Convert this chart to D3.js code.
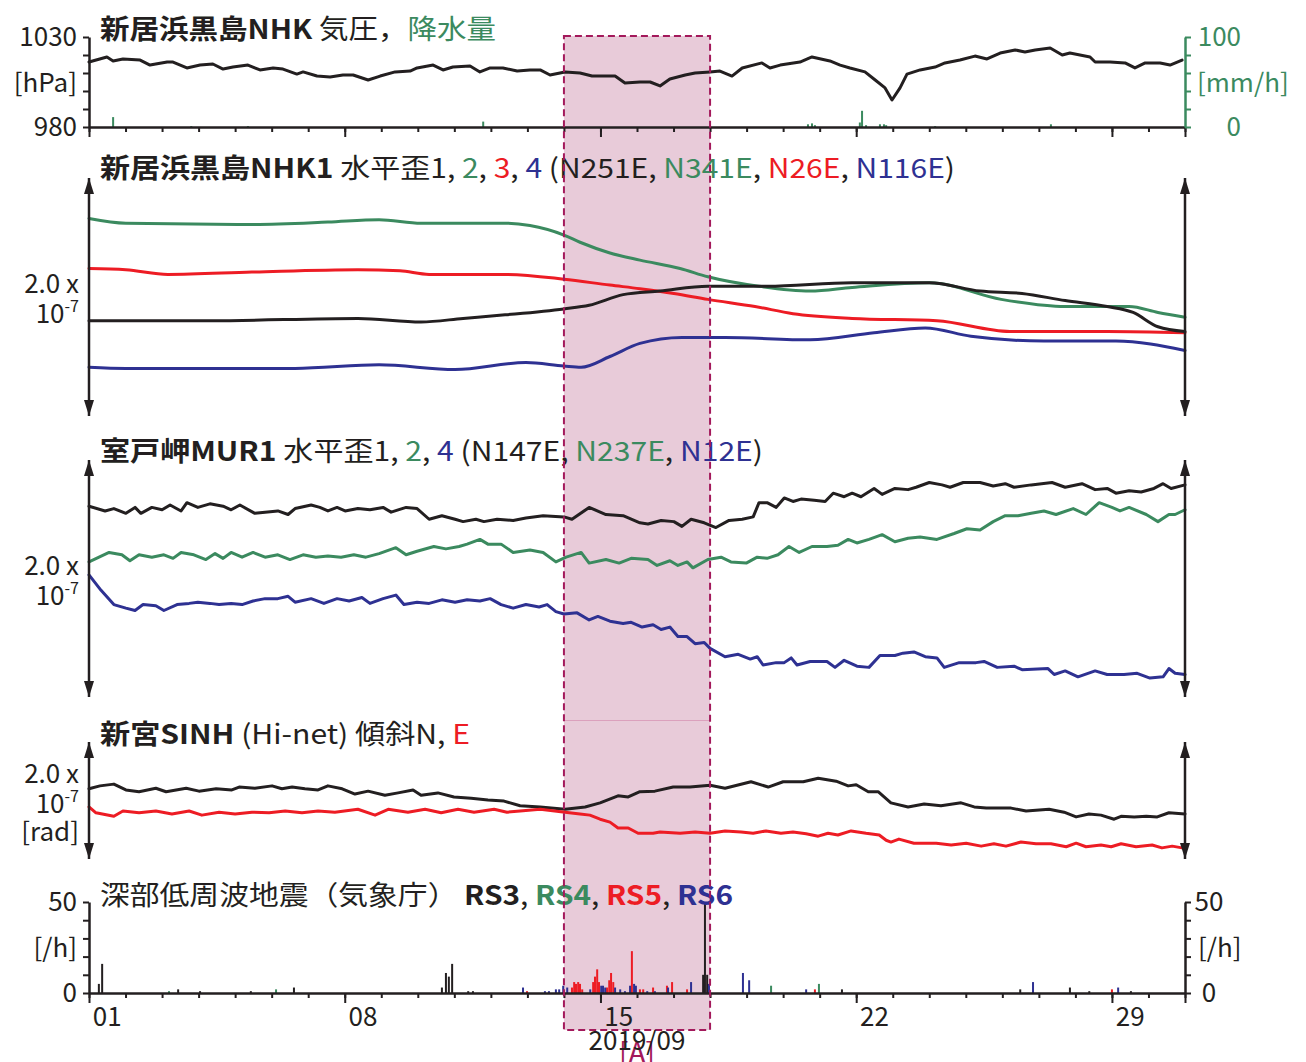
<!DOCTYPE html>
<html><head><meta charset="utf-8">
<script src="https://cdn.jsdelivr.net/npm/d3@7"></script>
<style>body{margin:0;background:#fff}svg{display:block}</style>
</head><body><svg id="c" width="1306" height="1062"></svg>
<script>
// ---------------- DATA (days since 2019-09-01 00:00) ----------------
const dayTickLabels = ["01","08","15","22","29"];
const dayTickDays = [0,7,14,21,28];
const periodA = [13,17];               // shaded period [A]
const pressTicks = [980,990,1000,1010,1020,1030];
const pressLabeled = [980,1030];
const rainTicks = [0,20,40,60,80,100];
const rainLabeled = [0,100];
const quakeTicks = [0,10,20,30,40,50];
const quakeLabeled = [0,50];

// air pressure [hPa]
const pressure = [[0,1016.1],[0.49,1018.9],[0.66,1016.7],[0.93,1017.8],[1.40,1017.2],[1.67,1014.4],[2.14,1016.1],[2.30,1016.1],[2.68,1012.8],[3.04,1014.4],[3.39,1015.0],[3.67,1012.2],[3.94,1013.3],[4.35,1014.4],[4.68,1011.7],[5.04,1012.8],[5.31,1012.2],[5.69,1009.4],[5.86,1010.6],[6.24,1008.3],[6.60,1007.8],[6.95,1008.9],[7.23,1008.9],[7.64,1006.1],[7.97,1008.3],[8.38,1010.6],[8.79,1011.1],[8.98,1012.8],[9.42,1014.4],[9.69,1011.7],[9.96,1013.3],[10.43,1013.9],[10.70,1010.6],[10.98,1012.8],[11.33,1012.8],[11.72,1011.1],[12.07,1011.7],[12.35,1011.7],[12.62,1008.9],[13.03,1010.6],[13.44,1010.0],[13.77,1008.3],[14.40,1008.3],[14.67,1004.4],[15.08,1005.0],[15.36,1005.0],[15.63,1002.8],[15.90,1006.7],[16.32,1008.9],[16.59,1010.0],[17.00,1010.6],[17.27,1011.1],[17.60,1008.3],[17.88,1012.8],[18.42,1015.6],[18.64,1012.8],[18.92,1014.4],[19.46,1016.1],[19.79,1018.9],[20.28,1016.7],[20.56,1014.4],[20.83,1012.8],[21.24,1010.6],[21.52,1006.1],[21.79,1001.7],[21.98,995.0],[22.20,1001.7],[22.39,1009.4],[22.75,1011.7],[23.16,1013.3],[23.43,1015.6],[23.84,1017.2],[24.25,1019.4],[24.58,1017.8],[24.94,1021.1],[25.35,1022.8],[25.62,1021.7],[25.90,1022.8],[26.31,1023.9],[26.64,1020.0],[26.85,1021.1],[27.40,1018.9],[27.54,1016.1],[27.95,1016.1],[28.36,1015.6],[28.63,1012.8],[28.91,1015.6],[29.32,1015.6],[29.59,1014.4],[29.92,1017.2]];
// precipitation [mm/h]
const rain = [[0.66,11],[2.80,1],[4.35,1],[10.79,6],[19.68,3],[19.79,4],[19.87,2],[21.10,5],[21.16,18],[21.27,2],[21.65,3],[21.76,3],[21.82,2],[23.16,1],[26.33,3]];

// NHK1 horizontal strain [1e-9]
const nhk1 = [[0,80],[3.31,80],[7.36,82],[9.09,79],[10.24,82],[11.39,85],[13.00,90],[13.69,93],[14.62,102],[15.63,105],[16.94,109],[18.56,109],[20.89,112],[23.00,112],[24.39,105],[25.54,103],[26.72,97],[27.87,92],[28.58,87],[29.26,75],[30,71]];
const nhk2 = [[0,166],[1.01,162],[4.46,161],[6.54,163],[7.94,165],[9.09,162],[11.39,162],[12.07,160],[13.00,152],[13.44,146],[14.26,137],[15.08,131],[16.18,124],[16.94,117],[18.34,109],[19.74,105],[20.89,108],[23.00,112],[24.97,98],[26.72,92],[28.47,92],[29.26,87],[30,83]];
const nhk3 = [[0,124],[1.01,123],[2.16,119],[4.46,121],[7.36,123],[8.51,122],[9.31,119],[11.39,119],[13.00,115],[14.26,110],[15.08,107],[16.01,103],[16.94,98],[18.23,92],[19.27,86],[20.89,82],[23.21,80],[25.21,71],[27.87,71],[30,70]];
const nhk4 = [[0,41],[1.01,40],[5.64,40],[7.94,43],[10.02,39],[11.96,45],[13.00,42],[13.47,41],[14.26,50],[15.08,61],[16.23,66],[17.41,66],[19.74,64],[21.49,70],[22.89,74],[24.14,67],[26.14,63],[28.11,63],[30,55]];

// MUR1 horizontal strain [1e-9]
const mur1 = [[0,161],[0.44,157],[0.68,159],[1.01,155],[1.26,160],[1.42,155],[1.72,160],[2.00,158],[2.22,162],[2.52,157],[2.68,164],[2.98,160],[3.31,163],[3.67,161],[3.89,158],[4.13,162],[4.54,155],[4.82,156],[5.17,157],[5.45,154],[5.64,159],[6.08,162],[6.32,160],[6.54,157],[6.79,160],[7.01,157],[7.36,159],[7.69,158],[8.05,160],[8.27,156],[8.68,160],[8.98,159],[9.31,150],[9.66,153],[10.02,150],[10.24,148],[10.59,150],[10.81,148],[11.17,150],[11.61,149],[11.96,151],[12.43,153],[13.00,152],[13.22,150],[13.69,160],[14.15,154],[14.62,153],[15.08,147],[15.30,146],[15.66,149],[16.01,148],[16.23,144],[16.48,150],[16.84,147],[17.16,143],[17.52,149],[17.88,150],[18.18,152],[18.34,164],[18.56,164],[18.81,160],[19.03,168],[19.27,165],[19.49,167],[19.85,166],[20.15,165],[20.37,172],[20.67,169],[20.89,172],[21.13,169],[21.49,176],[21.71,171],[22.06,176],[22.42,175],[22.64,177],[23.00,181],[23.35,179],[23.57,177],[23.93,181],[24.39,181],[24.75,178],[25.08,180],[25.32,177],[25.79,179],[26.36,181],[26.72,177],[27.18,180],[27.54,175],[27.87,176],[28.11,172],[28.47,174],[28.80,173],[29.15,176],[29.40,180],[29.62,176],[30,179]];
const mur2 = [[0,114],[0.55,122],[0.90,120],[1.12,115],[1.37,120],[1.72,118],[2.05,120],[2.30,117],[2.52,122],[2.87,120],[3.20,116],[3.45,121],[3.67,117],[3.89,122],[4.19,118],[4.49,122],[4.82,118],[5.17,120],[5.50,116],[5.86,120],[6.21,118],[6.54,119],[6.90,118],[7.25,120],[7.58,118],[7.94,121],[8.40,126],[8.68,120],[8.98,123],[9.44,127],[9.77,125],[10.13,127],[10.35,129],[10.70,133],[10.92,129],[11.28,129],[11.61,122],[12.07,124],[12.43,122],[12.78,114],[13.06,118],[13.47,122],[13.69,113],[14.15,116],[14.51,113],[14.84,117],[15.30,116],[15.55,111],[15.90,115],[16.12,111],[16.37,114],[16.53,109],[16.94,116],[17.30,118],[17.57,114],[17.99,113],[18.29,118],[18.56,117],[18.86,120],[19.16,127],[19.44,122],[19.79,127],[20.20,127],[20.50,128],[20.78,133],[21.02,130],[21.35,133],[21.71,137],[22.06,131],[22.42,134],[22.75,135],[23.21,133],[23.68,138],[24.03,142],[24.39,141],[24.75,148],[25.08,153],[25.43,153],[25.79,155],[26.14,157],[26.47,154],[26.94,159],[27.29,154],[27.65,164],[28.00,160],[28.22,157],[28.47,160],[28.94,154],[29.26,148],[29.56,154],[29.73,154],[30,158]];
const mur4 = [[0,103],[0.33,90],[0.68,78],[1.01,75],[1.26,73],[1.48,78],[1.83,77],[2.05,73],[2.41,78],[2.74,79],[2.98,80],[3.31,79],[3.56,78],[3.89,79],[4.19,78],[4.49,81],[4.82,83],[5.17,83],[5.45,85],[5.64,80],[6.08,83],[6.43,79],[6.79,83],[7.12,81],[7.47,84],[7.69,79],[8.05,83],[8.40,86],[8.62,78],[8.98,80],[9.31,79],[9.66,82],[10.02,80],[10.35,82],[10.70,81],[10.98,83],[11.28,78],[11.61,75],[11.96,78],[12.32,76],[12.54,78],[12.78,72],[13.00,70],[13.36,71],[13.69,65],[13.93,68],[14.26,64],[14.62,62],[14.84,63],[15.14,59],[15.44,61],[15.66,57],[15.90,59],[16.12,51],[16.37,51],[16.59,45],[16.84,46],[17.00,41],[17.41,34],[17.77,36],[18.10,32],[18.29,34],[18.45,27],[18.81,29],[19.03,29],[19.22,33],[19.38,27],[19.74,30],[20.20,30],[20.42,25],[20.67,31],[21.02,26],[21.35,25],[21.65,35],[22.06,35],[22.28,37],[22.58,38],[22.89,34],[23.21,33],[23.41,25],[23.82,29],[24.28,29],[24.50,30],[24.86,25],[25.32,26],[25.54,23],[26.25,24],[26.42,19],[26.72,22],[27.07,17],[27.54,22],[27.87,19],[28.33,19],[28.69,20],[29.04,16],[29.40,17],[29.56,24],[29.73,20],[30,19]];

// SINH tilt [1e-9 rad]
const sinhN = [[0,120],[0.30,125],[0.68,128],[1.01,118],[1.37,115],[1.83,121],[2.11,115],[2.66,121],[3.01,116],[3.48,120],[3.91,118],[4.11,123],[4.54,121],[5.01,125],[5.28,120],[5.56,123],[5.91,120],[6.27,118],[6.54,125],[6.93,120],[7.28,111],[7.64,116],[8.10,109],[8.46,113],[8.87,118],[9.09,109],[9.55,113],[9.99,106],[10.46,104],[10.92,101],[11.36,99],[11.80,91],[12.35,89],[13.03,85],[13.58,89],[13.99,96],[14.48,108],[14.76,106],[15.08,115],[15.49,116],[15.99,123],[16.45,123],[17.00,126],[17.41,121],[18.12,132],[18.59,123],[19.00,132],[19.55,132],[19.96,138],[20.45,133],[20.78,125],[21.00,127],[21.33,115],[21.60,115],[21.95,96],[22.42,89],[22.86,94],[23.32,91],[23.87,96],[24.23,89],[24.56,87],[25.24,87],[25.65,82],[26.28,85],[26.69,80],[27.02,72],[27.37,77],[27.70,75],[28.06,68],[28.25,73],[28.61,72],[28.94,73],[29.24,72],[29.56,79],[30,77]];
const sinhE = [[0,89],[0.19,79],[0.68,73],[0.93,82],[1.37,79],[1.83,82],[2.27,77],[2.74,82],[3.09,75],[3.56,80],[4.00,77],[4.46,80],[4.93,79],[5.37,82],[5.83,79],[6.27,82],[6.73,80],[7.36,85],[7.83,75],[8.19,85],[8.73,80],[9.20,85],[9.64,79],[10.10,85],[10.54,80],[11.09,85],[11.44,80],[11.80,82],[12.35,85],[13.03,80],[13.44,77],[13.71,75],[13.99,68],[14.26,63],[14.48,53],[14.76,53],[15.03,44],[15.44,44],[15.63,46],[16.18,44],[16.59,46],[17.00,44],[17.41,48],[17.85,46],[18.18,44],[18.53,48],[18.94,44],[19.27,46],[19.63,43],[19.96,39],[20.23,44],[20.50,41],[20.86,48],[21.27,44],[21.63,41],[21.82,32],[21.95,29],[22.17,34],[22.58,27],[23.19,27],[23.60,24],[24.01,27],[24.42,22],[24.77,26],[25.10,22],[25.51,29],[25.92,26],[26.33,26],[26.75,21],[27.02,27],[27.29,21],[27.70,24],[27.98,21],[28.25,26],[28.66,21],[29.10,24],[29.37,19],[29.65,22],[29.92,19]];

// deep low-frequency tremor counts per hour
const rs3 = [[0.27,5],[0.36,16],[2.44,2],[3.04,1],[4.43,1],[5.61,3],[9.66,3],[9.77,11],[9.85,9],[9.94,16],[10.38,1],[10.51,1],[16.81,10],[16.86,50],[16.92,10],[20.61,2],[25.49,2],[26.85,3],[27.38,1],[28.52,1]];
const rs4 = [[2.19,1],[5.12,2],[18.67,4],[19.98,5]];
const rs5 = [[11.99,1],[13.22,3],[13.28,6],[13.33,5],[13.39,6],[13.44,5],[13.50,2],[13.80,6],[13.85,9],[13.91,13],[13.96,6],[14.18,3],[14.24,7],[14.29,11],[14.35,6],[14.86,23],[15.08,2],[15.17,2],[15.44,3],[15.82,4],[15.96,6],[16.37,2],[19.87,2],[28.00,2]];
const rs6 = [[11.88,3],[12.48,1],[12.59,1],[12.78,2],[12.87,2],[12.98,4],[13.09,3],[13.72,2],[14.02,4],[14.07,4],[14.13,3],[14.40,3],[14.54,2],[14.67,1],[14.81,4],[14.92,5],[14.97,4],[15.28,1],[15.49,1],[15.85,3],[16.48,6],[16.97,5],[17.90,11],[18.07,7],[19.63,2],[25.84,6],[28.17,3]];

// ---------------- DRAW ----------------
const FONT = '"Noto Sans CJK JP","Noto Sans",sans-serif';
const C = {k:"#231f20", g:"#3b8a5f", r:"#ed1c24", b:"#2e3192", band:"#e8cbd9", edge:"#a3195b"};
const svg = d3.select("#c");
const x = d3.scaleLinear().domain([0,30]).range([89,1185]);
const yP = d3.scaleLinear().domain([980,1030]).range([127,37]);
const yR = d3.scaleLinear().domain([0,100]).range([127,37]);
const yS2 = d3.scaleLinear().domain([0,200]).range([416,178]);
const yS3 = d3.scaleLinear().domain([0,200]).range([697,460]);
const yT4 = d3.scaleLinear().domain([0,200]).range([859,742]);
const yQ = d3.scaleLinear().domain([0,50]).range([993,902]);

const defs = svg.append("defs");
defs.append("marker").attr("id","arr").attr("viewBox","0 0 16 10").attr("refX",16).attr("refY",5)
  .attr("markerWidth",16).attr("markerHeight",10).attr("markerUnits","userSpaceOnUse").attr("orient","auto-start-reverse")
  .append("path").attr("d","M0,0L16,5L0,10Z").attr("fill",C.k);

// shaded period fill (behind)
const bx0 = x(periodA[0]), bx1 = x(periodA[1]);
svg.append("rect").attr("x",bx0).attr("y",36).attr("width",bx1-bx0).attr("height",994).attr("fill",C.band);
svg.append("line").attr("x1",bx0).attr("x2",bx1).attr("y1",720.5).attr("y2",720.5).attr("stroke","#dba1bd").attr("stroke-width",1);

function styleAxis(g, color){
  g.attr("font-family",FONT).attr("font-size",26);
  g.selectAll(".domain").attr("stroke",color).attr("stroke-width",2.5);
  g.selectAll(".tick line").attr("stroke",color).attr("stroke-width",2);
  g.selectAll(".tick text").attr("fill",color);
}
function xAxis(yPos){
  const g1 = svg.append("g").attr("transform",`translate(0,${yPos})`)
    .call(d3.axisBottom(x).tickValues(d3.range(0,31)).tickSize(5).tickSizeOuter(0).tickFormat(""));
  styleAxis(g1,C.k);
  const g2 = svg.append("g").attr("transform",`translate(0,${yPos})`)
    .call(d3.axisBottom(x).tickValues(dayTickDays.concat([30])).tickSize(10).tickFormat(""));
  g2.select(".domain").remove();
  styleAxis(g2,C.k);
}
function line(data, y, color, curve){
  svg.append("path").datum(data).attr("fill","none").attr("stroke",color).attr("stroke-width",3)
    .attr("stroke-linejoin","round").attr("stroke-linecap","round")
    .attr("d", d3.line().x(d=>x(d[0])).y(d=>y(d[1])).curve(curve||d3.curveLinear));
}
function bars(data, y, color){
  svg.append("g").selectAll("rect").data(data).join("rect")
    .attr("x",d=>x(d[0])-1).attr("width",2).attr("y",d=>y(d[1])).attr("height",d=>y(0)-y(d[1])).attr("fill",color);
}
function arrow(xp, y0, y1){
  svg.append("line").attr("x1",xp).attr("x2",xp).attr("y1",y0).attr("y2",y1).attr("stroke",C.k).attr("stroke-width",2.5)
    .attr("marker-start","url(#arr)").attr("marker-end","url(#arr)");
}
function txt(xp, yp, s, opt={}){
  return svg.append("text").attr("x",xp).attr("y",yp).attr("font-family",FONT).attr("font-size",opt.fs||26)
    .attr("fill",opt.c||C.k).attr("text-anchor",opt.a||"start").attr("font-weight",opt.w||400).text(s);
}
function title(xp, yp, parts, len){
  const t = svg.append("text").attr("x",xp).attr("y",yp).attr("font-family",FONT).attr("font-size",27).attr("fill",C.k);
  parts.forEach(p=> t.append("tspan").attr("fill",p[2]||C.k).attr("font-weight",p[1]?700:400).text(p[0]));
  if(len) t.attr("textLength",len).attr("lengthAdjust","spacingAndGlyphs");
}
function scaleLabel(yc, extra){
  txt(79, yc+10, "2.0 x", {a:"end"});
  const t = svg.append("text").attr("x",79).attr("y",yc+40).attr("font-family",FONT).attr("font-size",26).attr("fill",C.k).attr("text-anchor","end");
  t.append("tspan").text("10");
  t.append("tspan").attr("font-size",16).attr("dy",-11).text("-7");
  if(extra) txt(79, yc+68, extra, {a:"end"});
}

// ---- Panel 1: pressure & rain
bars(rain, yR, C.g);
line(pressure, yP, C.k);
xAxis(127);
const gP = svg.append("g").attr("transform","translate(89,0)")
  .call(d3.axisLeft(yP).tickValues(pressTicks).tickSize(6).tickSizeOuter(0).tickPadding(6)
  .tickFormat(d=>pressLabeled.includes(d)?d:""));
styleAxis(gP,C.k);
const gR = svg.append("g").attr("transform","translate(1185,0)")
  .call(d3.axisRight(yR).tickValues(rainTicks).tickSize(6).tickSizeOuter(0)
  .tickFormat(d=>rainLabeled.includes(d)?d:""));
styleAxis(gR,C.g);
gR.selectAll(".tick text").attr("text-anchor","end").attr("x",56);
txt(77, 92, "[hPa]", {a:"end"});
txt(1197, 92, "[mm/h]", {c:C.g});
title(100, 39, [["新居浜黒島NHK",1],[" 気圧，"],["降水量",0,C.g]], 396);

// ---- Panel 2: NHK1 strain
line(nhk2, yS2, C.g, d3.curveMonotoneX);
line(nhk3, yS2, C.r, d3.curveMonotoneX);
line(nhk1, yS2, C.k, d3.curveMonotoneX);
line(nhk4, yS2, C.b, d3.curveMonotoneX);
arrow(89, 416, 178); arrow(1185, 416, 178);
scaleLabel(283);
title(100, 178, [["新居浜黒島NHK1",1],[" 水平歪1, "],["2",0,C.g],[", "],["3",0,C.r],[", "],["4",0,C.b],[" (N251E, "],["N341E",0,C.g],[", "],["N26E",0,C.r],[", "],["N116E",0,C.b],[")"]], 855);

// ---- Panel 3: MUR1 strain
line(mur1, yS3, C.k);
line(mur2, yS3, C.g);
line(mur4, yS3, C.b);
arrow(89, 697, 460); arrow(1185, 697, 460);
scaleLabel(565);
title(100, 461, [["室戸岬MUR1",1],[" 水平歪1, "],["2",0,C.g],[", "],["4",0,C.b],[" (N147E, "],["N237E",0,C.g],[", "],["N12E",0,C.b],[")"]], 663);

// ---- Panel 4: SINH tilt
line(sinhN, yT4, C.k);
line(sinhE, yT4, C.r);
arrow(89, 859, 742); arrow(1185, 859, 742);
scaleLabel(773, "[rad]");
title(100, 744, [["新宮SINH",1],[" (Hi-net) 傾斜N, "],["E",0,C.r]], 370);

// ---- Panel 5: tremor
bars(rs3, yQ, C.k); bars(rs4, yQ, C.g); bars(rs5, yQ, C.r); bars(rs6, yQ, C.b);
xAxis(993);
const gQL = svg.append("g").attr("transform","translate(89,0)")
  .call(d3.axisLeft(yQ).tickValues(quakeTicks).tickSize(6).tickSizeOuter(0).tickPadding(6)
  .tickFormat(d=>quakeLabeled.includes(d)?d:""));
styleAxis(gQL,C.k);
const gQR = svg.append("g").attr("transform","translate(1185,0)")
  .call(d3.axisRight(yQ).tickValues(quakeTicks).tickSize(6).tickSizeOuter(0)
  .tickFormat(d=>quakeLabeled.includes(d)?d:""));
styleAxis(gQR,C.k);
gQR.selectAll(".tick text").attr("text-anchor","middle").attr("x",24);
txt(77, 957, "[/h]", {a:"end"});
txt(1198, 957, "[/h]");
title(100, 905, [["深部低周波地震（気象庁） "],["RS3",1],[", "],["RS4",1,C.g],[", "],["RS5",1,C.r],[", "],["RS6",1,C.b]], 633);

// day labels
dayTickDays.forEach((d,i)=> txt(x(d+0.5), 1026, dayTickLabels[i], {a:"middle"}));

// band edge (on top)
svg.append("rect").attr("x",bx0).attr("y",36).attr("width",bx1-bx0).attr("height",994)
  .attr("fill","none").attr("stroke",C.edge).attr("stroke-width",2).attr("stroke-dasharray","7,4");
txt((bx0+bx1)/2, 1063, "[A]", {a:"middle", c:C.edge, fs:28});
txt((bx0+bx1)/2, 1050, "2019/09", {a:"middle"});
</script></body></html>
